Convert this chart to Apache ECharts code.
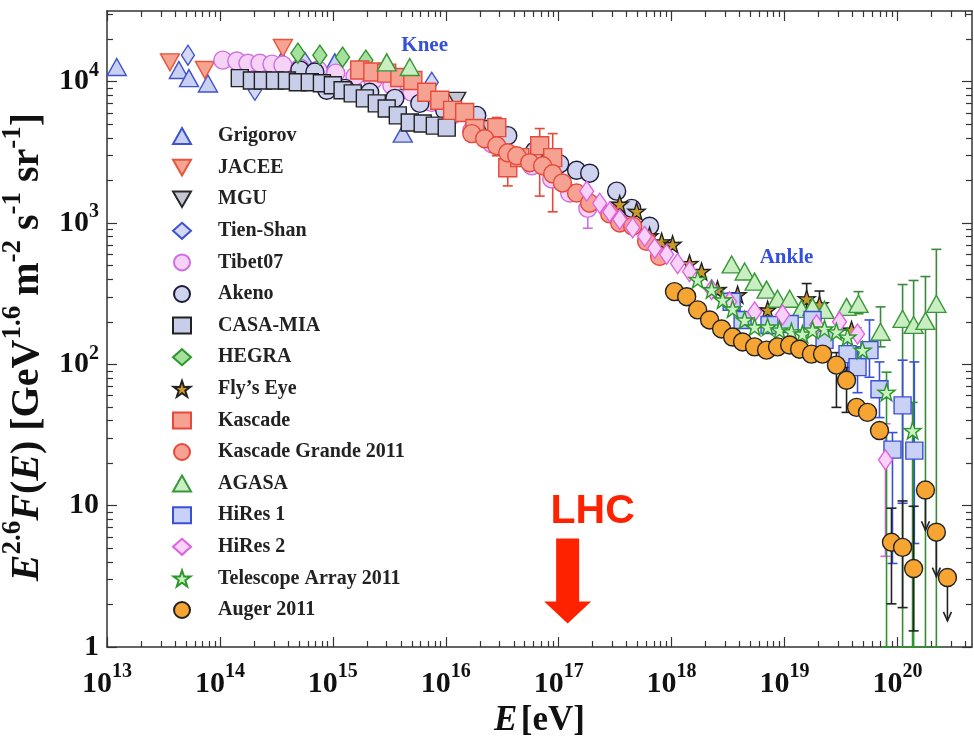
<!DOCTYPE html>
<html><head><meta charset="utf-8">
<script src="https://cdn.jsdelivr.net/npm/echarts@6/dist/echarts.min.js"></script>
<style>html,body{margin:0;padding:0;background:#fff}#c{width:974px;height:736px}</style>
</head><body><div id="c"></div>
<script>
// ---------- axis ticks ----------
const xMajor = [1e13,1e14,1e15,1e16,1e17,1e18,1e19,1e20];
const xMinor = [];
for (let e = 13; e <= 20; e++) for (let m = 2; m <= 9; m++) xMinor.push(m * Math.pow(10, e));
const yMajor = [1,10,100,1000,10000];
const yMinor = [];
for (let e = 0; e <= 4; e++) for (let m = 2; m <= 9; m++) yMinor.push(m * Math.pow(10, e));

// ---------- data: [E (eV), E^2.6 F(E)] ----------
const grigorov = [[1.22e13,1.27e4],[4.33e13,1.21e4],[5.32e13,1.06e4],[7.83e13,9.7e3],[3.54e14,1.42e4],[1.04e15,1.37e4],[4.16e15,4.29e3]];
const jacee = [[3.61e13,1.37e4],[7.36e13,1.21e4],[3.61e14,1.73e4]];
const mgu = [[3.92e15,7.74e3],[7.21e15,7.38e3],[1.25e16,7.38e3],[2.45e16,4.66e3]];
const tienShan = [[5.21e13,1.54e4],[2.04e14,8.69e3],[5.65e14,1.37e4],[7.52e15,9.9e3]];
const tibet07 = [[1.06e14,1.42e4],[1.41e14,1.40e4],[1.77e14,1.35e4],[2.26e14,1.35e4],[2.89e14,1.33e4],[3.61e14,1.31e4],[5.11e14,1.25e4],[7.37e14,1.21e4],[1.06e15,1.15e4],[1.57e15,1.09e4],[2.26e15,1.02e4],[3.33e15,9.4e3],[5.0e15,8.4e3],[7.52e15,7.13e3],[1.13e16,5.77e3],[1.70e16,4.51e3],[2.55e16,3.64e3],[3.84e16,2.99e3],[5.77e16,2.54e3],[8.67e16,2.05e3],[1.25e17,1.63e3],[1.81e17,1.27e3]];
const tibet07Err = [[1.81e17,918,1.40e3]];
const akeno = [[5.11e14,1.21e4],[6.93e14,1.17e4],[8.85e14,8.69e3],[1.28e15,8.97e3],[2.12e15,8.41e3],[3.54e15,7.62e3],[5.89e15,7.02e3],[9.8e15,6.26e3],[1.88e16,5.77e3],[3.54e16,4.15e3],[6.14e16,3.24e3],[1.02e17,2.62e3],[1.44e17,2.36e3],[1.88e17,2.25e3],[3.26e17,1.68e3],[4.43e17,1.27e3],[6.38e17,949]];
const casaMia = [[1.50e14,1.06e4],[1.92e14,1.02e4],[2.40e14,1.02e4],[3.07e14,1.02e4],[3.92e14,1.02e4],[4.90e14,9.9e3],[6.25e14,9.9e3],[8.0e14,9.74e3],[1.0e15,9.43e3],[1.22e15,8.69e3],[1.50e15,8.26e3],[1.92e15,7.62e3],[2.45e15,7.02e3],[3.0e15,6.46e3],[3.76e15,5.77e3],[4.80e15,5.14e3],[6.25e15,5.06e3],[8.0e15,4.89e3],[1.02e16,4.73e3]];
const hegra = [[4.90e14,1.59e4],[7.67e14,1.54e4],[1.22e15,1.49e4],[1.96e15,1.42e4]];
const flysEye = [[3.47e17,1.36e3],[4.90e17,1.21e3],[6.38e17,811],[8.16e17,736],[1.02e18,706],[1.44e18,517],[1.84e18,454],[2.55e18,338],[3.84e18,311],[7.08e18,243],[1.57e19,291],[2.04e19,264],[3.92e19,175]];
const flysEyeErr = [[1.57e19,236,373],[2.04e19,228,330]];
const kascade = [[1.73e15,1.21e4],[2.26e15,1.17e4],[3.0e15,1.15e4],[3.92e15,1.07e4],[5.11e15,1.02e4],[6.79e15,8.41e3],[8.85e15,7.38e3],[1.15e16,6.26e3],[1.47e16,6.05e3],[1.81e16,4.66e3],[2.83e16,4.73e3],[3.54e16,2.46e3],[4.52e16,2.90e3],[6.79e16,3.52e3],[8.85e16,2.90e3]];
const kascadeErr = [[2.83e16,2.99e3,5.58e3],[3.54e16,1.83e3,3.24e3],[6.79e16,1.55e3,4.66e3],[8.85e16,1.20e3,4.29e3]];
const kascadeGrande = [[1.70e16,4.29e3],[2.21e16,3.95e3],[2.83e16,3.52e3],[3.54e16,3.14e3],[4.25e16,2.99e3],[5.53e16,2.67e3],[7.21e16,2.54e3],[8.85e16,2.23e3],[1.08e17,1.92e3],[1.44e17,1.63e3],[1.88e17,1.38e3],[2.83e17,1.16e3],[3.47e17,1.0e3],[4.52e17,949],[6.01e17,742],[7.83e17,580]];
const agasa = [[3.0e15,1.37e4],[4.80e15,1.27e4],[3.40e18,509],[4.43e18,454],[5.43e18,385],[6.93e18,338],[8.67e18,291],[1.11e19,291],[1.41e19,247],[1.77e19,255],[2.26e19,243],[3.54e19,255],[4.52e19,268],[7.08e19,170],[1.11e20,210],[1.39e20,190],[1.77e20,203],[2.21e20,268]];
const agasaErr = [[4.52e19,228,327],[7.08e19,133,255],[1.11e20,1,367],[1.39e20,1,392],[1.77e20,1,418],[2.21e20,1,651]];
const hires1 = [[3.40e18,277],[4.25e18,206],[7.36e18,190],[1.11e19,193],[1.77e19,206],[2.26e19,149],[3.61e19,118],[4.43e19,95.5],[5.65e19,126],[6.93e19,66.6],[9.03e19,24.9],[1.11e20,51.2],[1.41e20,24.5]];
const hires1Err = [[3.61e19,91,156],[4.43e19,63,133],[5.65e19,81,206],[6.93e19,42,104],[9.03e19,3.9,32.9],[1.11e20,10.4,107],[1.41e20,5.4,104]];
const hires2 = [[1.77e17,1.68e3],[2.31e17,1.38e3],[2.83e17,1.20e3],[3.47e17,1.06e3],[4.52e17,926],[5.77e17,805],[7.08e17,662],[9.03e17,600],[1.13e18,517],[1.44e18,454],[2.26e18,338],[3.26e18,277],[5.43e18,235],[9.6e18,224],[1.92e19,190],[3.07e19,200],[4.43e19,164],[7.83e19,21.1]];
const hires2Err = [[7.83e19,4.38,38]];
const telescopeArray = [[1.70e18,398],[2.26e18,338],[2.83e18,286],[3.47e18,247],[4.43e18,206],[5.43e18,184],[7.08e18,184],[9.03e18,175],[1.15e19,170],[1.44e19,164],[1.77e19,175],[2.26e19,178],[2.88e19,170],[3.61e19,156],[4.90e19,126],[8.0e19,63.4],[1.36e20,34.0]];
const telescopeArrayErr = [[8.0e19,1,88],[1.36e20,1,53.8]];
const auger = [[1.06e18,327],[1.36e18,301],[1.70e18,243],[2.17e18,206],[2.77e18,178],[3.47e18,156],[4.25e18,144],[5.43e18,133],[6.93e18,126],[8.67e18,133],[1.11e19,137],[1.36e19,128],[1.73e19,118],[2.17e19,118],[2.88e19,98.7],[3.54e19,77.1],[4.34e19,49.6],[5.43e19,45.7],[6.93e19,34.0],[8.85e19,5.51],[1.11e20,5.07],[1.39e20,3.59],[1.77e20,12.9],[2.21e20,6.49],[2.77e20,3.10]];
const augerErr = [[2.88e19,49.6,121],[3.54e19,45.7,95],[8.85e19,2.02,9.6],[1.11e20,1.90,10.8],[1.39e20,1.30,9.9]];
const augerLimits = [[1.77e20,12.9,6.7],[2.21e20,6.49,3.15],[2.77e20,3.10,1.53]];
const annotations = [{name:'Knee', value:[6.5e15,1.79e4]},{name:'Ankle', value:[1.04e19,571]}];
const lhc = [[1.2e17,2.93]];

// ---------- styling ----------
const SERIF = 'Liberation Serif';
const STAR = 'path://M50,0 L61.8,35.1 L97.6,34.5 L68.7,56.1 L79.4,90.5 L50,69.7 L20.6,90.5 L31.3,56.1 L2.4,34.5 L38.2,35.1 Z';
const DOWN = 'path://M0,0 L20,0 L10,17.3 Z';
const ARROW = 'path://M12,0 L35,0 L35,63 L47,63 L23.5,85 L0,63 L12,63 Z';

const defs = [
  ['Grigorov', grigorov, 'triangle', [19,17], '#3f52cf', '#c9d0f2'],
  ['JACEE', jacee, DOWN, [19,17], '#e8543c', '#f6a391'],
  ['MGU', mgu, DOWN, [18,16], '#2a2a2a', '#c6c6d2'],
  ['Tien-Shan', tienShan, 'diamond', [13,20], '#3f52cf', '#d3d9f4'],
  ['Tibet07', tibet07, 'circle', 18, '#cf6fe0', '#f5d2f6'],
  ['Akeno', akeno, 'circle', 18, '#1c1c3c', '#cfd3ee'],
  ['CASA-MIA', casaMia, 'rect', 17, '#222222', '#c8cdea'],
  ['HEGRA', hegra, 'diamond', [14,20], '#2b962b', '#a6e09f'],
  ["Fly\u2019s Eye", flysEye, STAR, 17, '#222222', '#c99a2a'],
  ['Kascade', kascade, 'rect', 18, '#e8483a', '#f5a292'],
  ['Kascade Grande 2011', kascadeGrande, 'circle', 18, '#e8483a', '#f5a292'],
  ['AGASA', agasa, 'triangle', [19,17], '#3a973a', '#c9eec2'],
  ['HiRes 1', hires1, 'rect', 17, '#3a50d8', '#c9d1f6'],
  ['HiRes 2', hires2, 'diamond', [14,20], '#e060e0', '#f8d2f8'],
  ['Telescope Array 2011', telescopeArray, STAR, 17, '#2b962b', '#c9f1c2'],
  ['Auger 2011', auger, 'circle', 18, '#222222', '#f6a532']
];

function errRender(color) {
  return function (params, api) {
    const x = api.value(0);
    const p1 = api.coord([x, api.value(1)]);
    const p2 = api.coord([x, api.value(2)]);
    const c = 5;
    const st = {stroke: color, lineWidth: 1.6};
    return {type: 'group', children: [
      {type: 'line', shape: {x1: p1[0], y1: p1[1], x2: p2[0], y2: p2[1]}, style: st},
      {type: 'line', shape: {x1: p1[0]-c, y1: p1[1], x2: p1[0]+c, y2: p1[1]}, style: st},
      {type: 'line', shape: {x1: p2[0]-c, y1: p2[1], x2: p2[0]+c, y2: p2[1]}, style: st}
    ]};
  };
}
function limitRender(params, api) {
  const x = api.value(0);
  const p1 = api.coord([x, api.value(1)]);
  const p2 = api.coord([x, api.value(2)]);
  const st = {stroke: '#222', lineWidth: 1.6, fill: null};
  return {type: 'group', children: [
    {type: 'line', shape: {x1: p1[0], y1: p1[1], x2: p2[0], y2: p2[1]}, style: st},
    {type: 'polyline', shape: {points: [[p2[0]-4, p2[1]-9], [p2[0], p2[1]], [p2[0]+4, p2[1]-9]]}, style: st}
  ]};
}
function errSeries(data, color) {
  return {type: 'custom', xAxisIndex: 0, yAxisIndex: 0, data: data, renderItem: errRender(color),
    encode: {x: 0, y: [1, 2]}, silent: true, z: 1};
}

const series = [
  errSeries(tibet07Err, '#cf6fe0'),
  errSeries(kascadeErr, '#e8483a'),
  errSeries(flysEyeErr, '#222'),
  errSeries(agasaErr, '#3a8a3a'),
  errSeries(hires1Err, '#3a50d8'),
  errSeries(hires2Err, '#e060e0'),
  errSeries(telescopeArrayErr, '#2b962b'),
  errSeries(augerErr, '#222'),
  {type: 'custom', data: augerLimits, renderItem: limitRender, encode: {x: 0, y: [1, 2]}, silent: true, z: 1}
];
defs.forEach(d => {
  series.push({
    name: d[0], type: 'scatter', data: d[1], symbol: d[2], symbolSize: d[3],
    itemStyle: {color: d[5], borderColor: d[4], borderWidth: 1.4, opacity: 1}, z: 3
  });
});
series.push({
  type: 'scatter', data: annotations, symbol: 'circle', symbolSize: 1, silent: true, z: 6,
  itemStyle: {color: 'rgba(0,0,0,0)', borderWidth: 0, opacity: 1},
  label: {show: true, position: 'inside', formatter: p => p.name, fontFamily: SERIF, fontWeight: 'bold',
    fontSize: 21, color: '#3550d8', opacity: 1}
});
series.push({
  type: 'scatter', data: lhc, symbol: ARROW, symbolSize: [47, 85], silent: true, z: 5,
  itemStyle: {color: '#ff2200', opacity: 1},
  label: {show: true, position: 'top', distance: 6, offset: [25, 0], formatter: 'LHC', opacity: 1,
    fontFamily: 'Liberation Sans', fontWeight: 'bold', fontSize: 41, color: '#ff2200'}
});

const lineSt = {color: '#333', width: 1.5};
const xRich = {
  b: {fontFamily: SERIF, fontWeight: 'bold', fontSize: 30, lineHeight: 30, padding: [12, 0, 0, 0], color: '#111'},
  s: {fontFamily: SERIF, fontWeight: 'bold', fontSize: 20, lineHeight: 20, padding: [5, 0, 17, 0], color: '#111'}
};
const yRich = {
  b: {fontFamily: SERIF, fontWeight: 'bold', fontSize: 30, lineHeight: 30, padding: [6, 0, 6, 0], color: '#111'},
  s: {fontFamily: SERIF, fontWeight: 'bold', fontSize: 20, lineHeight: 20, padding: [0, 0, 22, 0], color: '#111'}
};
function powLabel(v) {
  const e = Math.round(Math.log10(v));
  if (e === 0) return '{b|1}';
  if (e === 1) return '{b|10}';
  return '{b|10}{s|' + e + '}';
}
const XMIN = 1e13, XMAX = Math.pow(10, 20.66), YMIN = 1, YMAX = Math.pow(10, 4.5);
function xAx(pos, ticks, len, labels, line, extra) {
  return Object.assign({
    type: 'log', min: XMIN, max: XMAX, position: pos, gridIndex: 0,
    axisLine: {show: line, onZero: false, lineStyle: lineSt},
    axisTick: {show: true, inside: true, length: len, customValues: ticks, lineStyle: {color: '#333', width: 1.2}},
    axisLabel: labels ? {show: true, customValues: ticks, formatter: powLabel, rich: xRich, margin: 16} : {show: false},
    splitLine: {show: false}, minorTick: {show: false}
  }, extra || {});
}
function yAx(pos, ticks, len, labels, line, extra) {
  return Object.assign({
    type: 'log', min: YMIN, max: YMAX, position: pos, gridIndex: 0,
    axisLine: {show: line, onZero: false, lineStyle: lineSt},
    axisTick: {show: true, inside: true, length: len, customValues: ticks, lineStyle: {color: '#333', width: 1.2}},
    axisLabel: labels ? {show: true, customValues: ticks, formatter: powLabel, rich: yRich, margin: 8} : {show: false},
    splitLine: {show: false}, minorTick: {show: false}
  }, extra || {});
}

const option = {
  animation: false,
  backgroundColor: '#fff',
  grid: {left: 107, right: 2, top: 11, bottom: 89, containLabel: false, outerBoundsMode: 'none'},
  legend: {
    data: defs.map(d => d[0]), orient: 'vertical', left: 167, top: 121, itemWidth: 18, itemHeight: 16,
    itemGap: 11.6, selectedMode: false,
    textStyle: {fontFamily: SERIF, fontWeight: 'bold', fontSize: 20, lineHeight: 16, color: '#222', padding: [0, 0, 0, 22]}
  },
  xAxis: [
    xAx('bottom', xMajor, 10, true, true, {
      name: '{i|E} {n|[eV]}', nameLocation: 'middle', nameGap: 56,
      nameTextStyle: {rich: {
        i: {fontFamily: SERIF, fontStyle: 'italic', fontWeight: 'bold', fontSize: 35, color: '#111'},
        n: {fontFamily: SERIF, fontWeight: 'bold', fontSize: 35, color: '#111'}
      }}
    }),
    xAx('bottom', xMinor, 6, false, false),
    xAx('top', xMajor, 10, false, true),
    xAx('top', xMinor, 6, false, false)
  ],
  yAxis: [
    yAx('left', yMajor, 10, true, true, {
      name: '{i|E}{s|2.6}{i|F}{n|(}{i|E}{n|) [GeV}{s|1.6}{n| m}{s|-2}{n| s}{s|-1}{n| sr}{s|-1}{n|]}',
      nameLocation: 'middle', nameGap: 51, nameRotate: 90,
      nameTextStyle: {padding: [0, 36, 0, 0], rich: {
        i: {fontFamily: SERIF, fontStyle: 'italic', fontWeight: 'bold', fontSize: 40, lineHeight: 40, padding: [9, 0, 0, 0], color: '#111'},
        n: {fontFamily: SERIF, fontWeight: 'bold', fontSize: 40, lineHeight: 40, padding: [9, 0, 0, 0], color: '#111'},
        s: {fontFamily: SERIF, fontWeight: 'bold', fontSize: 27, lineHeight: 27, padding: [0, 0, 22, 0], color: '#111'}
      }}
    }),
    yAx('left', yMinor, 6, false, false),
    yAx('right', yMajor, 10, false, true),
    yAx('right', yMinor, 6, false, false)
  ],
  series: series
};
const chart = echarts.init(document.getElementById('c'), null, {renderer: 'canvas'});
chart.setOption(option);
</script>
</body></html>
